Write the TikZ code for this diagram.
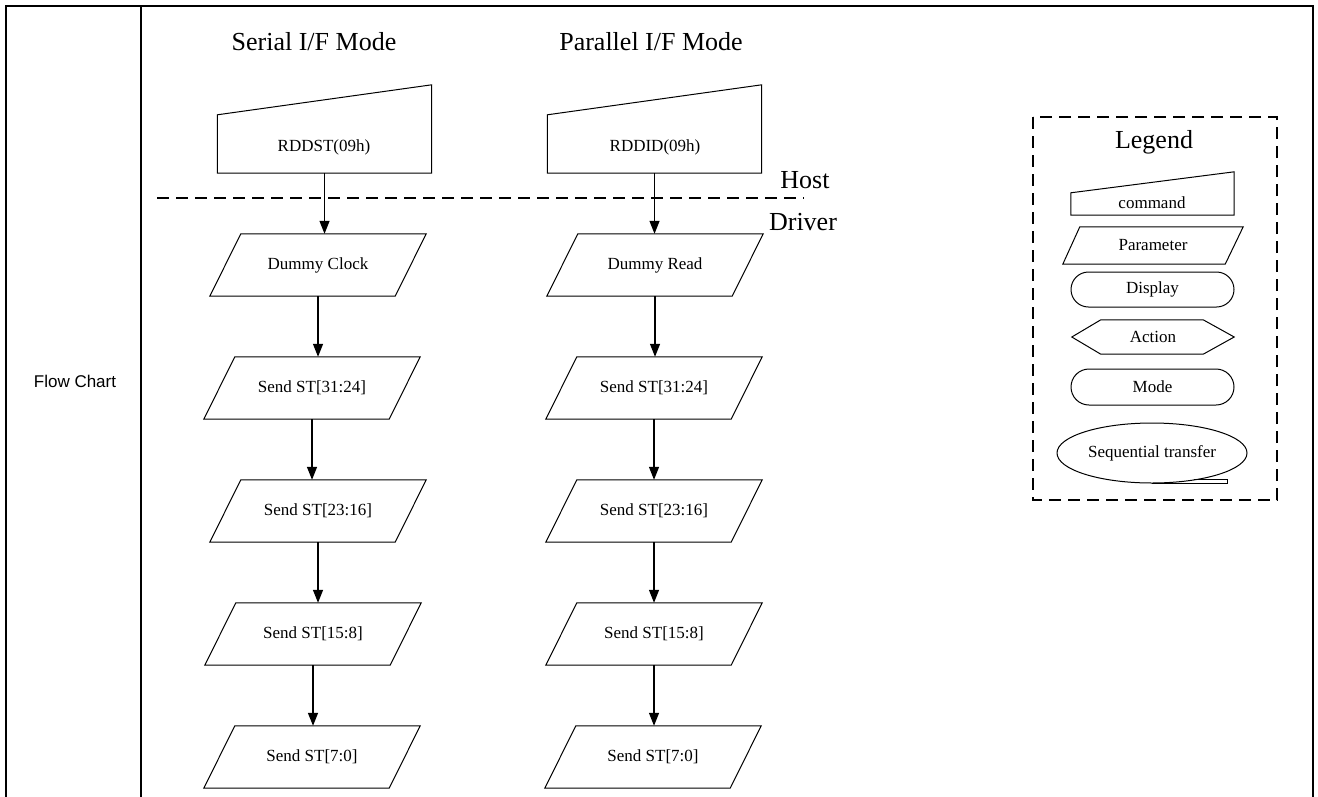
\documentclass[tikz,border=0pt]{standalone}
\usepackage{fontspec}
\setmainfont{Liberation Serif}
\newfontfamily\arialfont{Liberation Sans}
\usetikzlibrary{arrows.meta,shapes.misc,shapes.geometric,calc}
\tikzset{
  frameline/.style={line width=2pt},
  boxline/.style={line width=1pt},
  dashline/.style={line width=2pt, dash pattern=on 12pt off 7pt},
  arr/.style={line width=1.3pt, -{Triangle[length=13pt,width=10pt]}},
  ttl/.style={font=\fontsize{26pt}{30pt}\selectfont, inner sep=0pt},
  lbl/.style={font=\fontsize{17pt}{20pt}\selectfont, inner sep=0pt},
  parabox/.style={draw=none, minimum width=216pt, minimum height=62pt, inner sep=0pt, font=\fontsize{17pt}{20pt}\selectfont},
  cmdbox/.style={draw=none, minimum width=214pt, minimum height=88pt, inner sep=0pt},
  legbox/.style={draw=none, inner sep=0pt, font=\fontsize{17pt}{20pt}\selectfont},
}
\newcommand\paraoutline[1]{\draw[boxline] (#1.south west) -- ([xshift=-31pt]#1.south east) -- (#1.north east) -- ([xshift=31pt]#1.north west) -- cycle;}
\newcommand\cmdoutline[1]{\draw[boxline] (#1.south west) -- (#1.south east) -- (#1.north east) -- ([yshift=-30pt]#1.north west) -- cycle;}
\begin{document}
\begin{tikzpicture}[x=1pt,y=-1pt]
\useasboundingbox (0,0) rectangle (1318,796);
\fill[white] (0,0) rectangle (1318,796);
% frame
\draw[frameline] (6,797) -- (6,6) -- (1313,6) -- (1313,797);
\draw[frameline] (141,6) -- (141,797);
\node[font=\arialfont\fontsize{17pt}{20pt}\selectfont, inner sep=0pt] (fc) at (75,381) {Flow Chart};
% titles
\node[ttl] (tS) at (314,42) {Serial I/F Mode};
\node[ttl] (tP) at (651,42) {Parallel I/F Mode};
% commands
\node[cmdbox] (cS) at (324.5,129) {};
\cmdoutline{cS}
\node[lbl] (cSt) at (324,147) {RDDST(09h)};
\node[cmdbox] (cP) at (654.5,129) {};
\cmdoutline{cP}
\node[lbl] (cPt) at (655,147) {RDDID(09h)};
% host / driver
\draw[dashline] (157,198) -- (804,198);
\node[ttl] (host) at (805,180) {Host};
\node[ttl] (drv) at (803,222) {Driver};
% serial column
\node[parabox] (s0) at (318,265) {Dummy Clock};
\node[parabox] (s1) at (312,388) {Send ST[31:24]};
\node[parabox] (s2) at (318,511) {Send ST[23:16]};
\node[parabox] (s3) at (313,634) {Send ST[15:8]};
\node[parabox] (s4) at (312,757) {Send ST[7:0]};
\foreach \n in {s0,s1,s2,s3,s4} {\paraoutline{\n}}
% parallel column
\node[parabox] (p0) at (655,265) {Dummy Read};
\node[parabox] (p1) at (654,388) {Send ST[31:24]};
\node[parabox] (p2) at (654,511) {Send ST[23:16]};
\node[parabox] (p3) at (654,634) {Send ST[15:8]};
\node[parabox] (p4) at (653,757) {Send ST[7:0]};
\foreach \n in {p0,p1,p2,p3,p4} {\paraoutline{\n}}
% arrows
\draw[arr] (cS.south) -- (cS.south |- s0.north);
\draw[arr] (s0.south) -- (s0.south |- s1.north);
\draw[arr] (s1.south) -- (s1.south |- s2.north);
\draw[arr] (s2.south) -- (s2.south |- s3.north);
\draw[arr] (s3.south) -- (s3.south |- s4.north);
\draw[arr] (cP.south) -- (cP.south |- p0.north);
\draw[arr] (p0.south) -- (p0.south |- p1.north);
\draw[arr] (p1.south) -- (p1.south |- p2.north);
\draw[arr] (p2.south) -- (p2.south |- p3.north);
\draw[arr] (p3.south) -- (p3.south |- p4.north);
% legend
\draw[dashline] (1033,117) rectangle (1277,500);
\node[ttl] (lg) at (1154,142) {Legend};
\node[legbox, minimum width=163pt, minimum height=43pt] (lc) at (1152.5,193.5) {};
\draw[boxline] (lc.south west) -- (lc.south east) -- (lc.north east) -- ([yshift=-21pt]lc.north west) -- cycle;
\node[lbl] (lct) at (1152,203) {command};
\node[legbox, minimum width=180pt, minimum height=37pt] (lp) at (1153,245.5) {Parameter};
\draw[boxline] (lp.south west) -- ([xshift=-18pt]lp.south east) -- (lp.north east) -- ([xshift=17pt]lp.north west) -- cycle;
\node[legbox, draw, boxline, rounded rectangle, minimum width=163pt, minimum height=35pt] (ld) at (1152.5,289.5) {Display};
\node[legbox, minimum width=162pt, minimum height=34pt] (la) at (1153,337) {Action};
\draw[boxline] (la.west) -- ([xshift=29pt]la.north west) -- ([xshift=-31pt]la.north east) -- (la.east) -- ([xshift=-31pt]la.south east) -- ([xshift=29pt]la.south west) -- cycle;
\node[legbox, draw, boxline, rounded rectangle, minimum width=163pt, minimum height=36pt] (lm) at (1152.5,387) {Mode};
\node[legbox, draw, boxline, ellipse, minimum width=190pt, minimum height=60pt] (lsq) at (1152,453) {Sequential transfer};
\draw[boxline] (lsq.south) -- ([xshift=75pt]lsq.south) -- ([xshift=75pt,yshift=4pt]lsq.south) -- ([xshift=42pt,yshift=4pt]lsq.south);
\end{tikzpicture}
\end{document}
